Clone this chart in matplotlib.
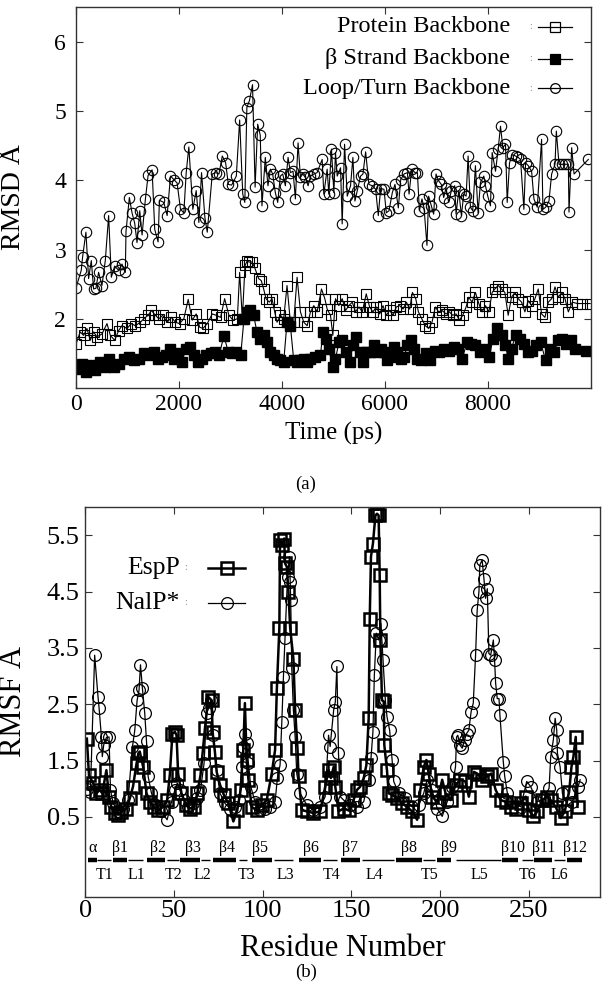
import matplotlib
matplotlib.use("Agg")
import matplotlib.pyplot as plt

plt.rcParams["font.family"] = ["Liberation Serif", "DejaVu Serif"]
plt.rcParams["mathtext.fontset"] = "stix"

# ---------------- panel (a): RMSD vs time ----------------
t_loop = [0, 104, 130, 195, 247, 299, 344, 389, 441, 506,
          571, 636, 688, 753, 830, 895, 960, 973, 1038, 1090,
          1142, 1187, 1240, 1285, 1350, 1402, 1480, 1531, 1596, 1622,
          1707, 1772, 1837, 1901, 1966, 2031, 2096, 2142, 2193, 2271,
          2336, 2388, 2440, 2505, 2551, 2648, 2713, 2778, 2843, 2908,
          2960, 3024, 3115, 3180, 3240, 3280, 3320, 3370, 3430, 3480,
          3530, 3580, 3613, 3678, 3730, 3776, 3821, 3873, 3919, 3970,
          4016, 4068, 4120, 4165, 4217, 4262, 4314, 4360, 4405, 4457,
          4509, 4555, 4620, 4684, 4782, 4814, 4879, 4911, 4963, 5009,
          5041, 5074, 5139, 5171, 5217, 5269, 5333, 5379, 5418, 5463,
          5528, 5574, 5626, 5690, 5755, 5820, 5872, 5917, 5982, 6028,
          6080, 6144, 6196, 6261, 6307, 6372, 6437, 6469, 6521, 6586,
          6631, 6670, 6720, 6760, 6817, 6850, 6902, 6947, 6993, 7044,
          7096, 7142, 7187, 7239, 7291, 7356, 7382, 7434, 7486, 7531,
          7577, 7616, 7661, 7706, 7758, 7810, 7856, 7921, 7953, 7998,
          8050, 8083, 8148, 8200, 8245, 8291, 8342, 8375, 8420, 8472,
          8537, 8589, 8634, 8699, 8732, 8784, 8849, 8894, 8959, 9043,
          9069, 9121, 9186, 9238, 9303, 9329, 9381, 9433, 9497, 9562,
          9575, 9627, 9673, 9950]
rmsd_loop = [2.44, 2.70, 2.89, 3.25, 2.58, 2.84, 2.43, 2.44, 2.67, 2.48,
             2.84, 3.49, 2.60, 2.76, 2.70, 2.79, 2.67, 3.26, 3.75, 3.53,
             3.38, 3.10, 3.56, 3.21, 3.73, 4.07, 4.15, 3.29, 3.11, 3.71,
             3.68, 3.49, 4.06, 4.01, 3.96, 3.58, 3.53, 4.11, 4.48, 3.58,
             3.85, 3.39, 4.11, 3.46, 3.25, 4.09, 4.11, 4.09, 4.35, 4.25,
             3.94, 3.93, 4.06, 4.87, 3.80, 3.68, 5.05, 5.15, 5.38, 3.90,
             4.81, 4.65, 3.63, 4.33, 3.92, 4.16, 4.09, 3.82, 3.68, 4.06,
             4.09, 3.92, 4.33, 4.11, 4.13, 3.73, 4.54, 4.04, 4.09, 4.04,
             3.92, 4.06, 4.09, 4.11, 4.30, 3.80, 4.16, 3.80, 4.45, 3.82,
             4.40, 4.06, 4.18, 3.37, 4.52, 3.77, 3.92, 4.33, 3.70, 3.85,
             4.06, 4.09, 4.41, 3.94, 3.92, 3.87, 3.49, 3.88, 3.87, 3.53,
             3.56, 3.82, 3.94, 3.60, 4.01, 4.09, 4.11, 3.80, 4.16, 4.11,
             4.11, 3.56, 3.73, 3.60, 3.06, 3.77, 3.63, 3.51, 4.09, 3.99,
             3.94, 3.75, 3.89, 3.68, 3.85, 3.92, 3.51, 3.85, 3.49, 3.80,
             3.77, 4.35, 3.61, 3.56, 4.21, 3.53, 3.97, 4.06, 3.92, 3.77,
             3.63, 4.40, 4.13, 4.45, 4.78, 4.47, 4.52, 3.68, 4.25, 4.37,
             4.35, 4.33, 4.30, 3.58, 4.25, 4.21, 4.13, 3.73, 3.61, 4.59,
             3.58, 3.61, 3.70, 4.09, 4.23, 4.71, 4.23, 4.23, 4.23, 4.23,
             3.54, 4.47, 4.09, 4.30]

t_prot = [0, 84, 150, 214, 280, 344, 409, 506, 604, 669,
          753, 830, 895, 993, 1077, 1155, 1253, 1317, 1402, 1467,
          1545, 1610, 1687, 1772, 1856, 1934, 2012, 2096, 2181, 2259,
          2336, 2401, 2466, 2551, 2648, 2726, 2810, 2888, 2972, 3050,
          3135, 3180, 3232, 3284, 3330, 3354, 3419, 3471, 3549, 3600,
          3646, 3691, 3756, 3808, 3860, 3906, 3970, 4035, 4100, 4165,
          4230, 4295, 4360, 4425, 4490, 4555, 4620, 4684, 4769, 4834,
          4879, 4944, 4989, 5041, 5106, 5171, 5236, 5301, 5366, 5431,
          5496, 5561, 5638, 5703, 5768, 5833, 5898, 5963, 6028, 6093,
          6158, 6222, 6287, 6352, 6417, 6482, 6534, 6599, 6651, 6716,
          6785, 6850, 6915, 6980, 7044, 7109, 7187, 7252, 7317, 7382,
          7447, 7512, 7577, 7629, 7693, 7758, 7823, 7888, 7953, 8018,
          8083, 8135, 8200, 8265, 8330, 8394, 8459, 8524, 8589, 8654,
          8719, 8784, 8849, 8914, 8978, 9043, 9108, 9173, 9238, 9303,
          9368, 9433, 9497, 9562, 9640, 9738, 9835, 9985]
rmsd_prot = [1.63, 1.81, 1.76, 1.86, 1.69, 1.81, 1.74, 1.78, 1.93, 1.76,
             1.69, 1.83, 1.90, 1.86, 1.93, 1.90, 1.95, 2.00, 2.05, 2.12,
             2.05, 2.00, 2.05, 1.95, 2.02, 1.95, 1.93, 2.00, 2.28, 1.98,
             2.07, 1.88, 1.86, 1.93, 2.07, 2.05, 2.02, 2.29, 2.05, 1.98,
             2.00, 2.67, 2.00, 2.77, 2.84, 2.82, 2.82, 2.74, 2.58, 2.55,
             2.43, 2.29, 2.24, 2.29, 2.10, 1.95, 2.05, 2.00, 2.48, 1.95,
             1.95, 2.60, 2.10, 1.95, 1.90, 2.10, 2.19, 2.10, 2.43, 2.29,
             2.14, 2.05, 1.76, 2.29, 2.19, 2.29, 2.12, 2.19, 2.24, 2.10,
             2.17, 2.10, 2.36, 2.17, 2.10, 2.17, 2.07, 2.19, 2.05, 2.12,
             2.05, 2.17, 2.19, 2.14, 2.24, 2.14, 2.38, 2.29, 2.10, 2.00,
             1.90, 1.86, 1.95, 2.17, 2.10, 2.12, 2.07, 2.10, 2.05, 2.07,
             1.98, 2.05, 2.17, 2.31, 2.24, 2.38, 2.22, 2.10, 2.19, 2.10,
             2.38, 2.43, 2.48, 2.43, 2.38, 2.05, 2.31, 2.38, 2.29, 2.24,
             2.10, 2.26, 2.19, 2.29, 2.43, 2.07, 2.02, 2.24, 2.29, 2.46,
             2.31, 2.38, 2.29, 2.10, 2.24, 2.22, 2.22, 2.22]

t_beta = [20, 117, 195, 280, 376, 474, 571, 649, 733, 830,
          928, 1025, 1123, 1220, 1317, 1415, 1512, 1596, 1674, 1752,
          1837, 1901, 1986, 2064, 2129, 2207, 2291, 2375, 2453, 2531,
          2615, 2700, 2778, 2875, 2960, 3037, 3115, 3200, 3264, 3330,
          3386, 3451, 3516, 3581, 3646, 3711, 3776, 3841, 3906, 3970,
          4035, 4100, 4165, 4230, 4295, 4360, 4425, 4490, 4555, 4652,
          4749, 4795, 4847, 4911, 4989, 5041, 5106, 5171, 5236, 5314,
          5379, 5444, 5509, 5574, 5638, 5703, 5788, 5853, 5917, 5982,
          6047, 6112, 6177, 6242, 6307, 6372, 6437, 6501, 6566, 6631,
          6696, 6798, 6882, 6980, 7057, 7142, 7239, 7336, 7421, 7499,
          7596, 7680, 7758, 7856, 7953, 8031, 8096, 8180, 8265, 8342,
          8394, 8459, 8537, 8615, 8699, 8784, 8862, 8940, 9024, 9121,
          9199, 9284, 9368, 9446, 9524, 9608, 9692, 9900]
rmsd_beta = [1.28, 1.35, 1.23, 1.33, 1.26, 1.38, 1.30, 1.42, 1.30, 1.35,
             1.42, 1.45, 1.40, 1.42, 1.50, 1.47, 1.52, 1.42, 1.45, 1.47,
             1.57, 1.42, 1.50, 1.38, 1.57, 1.59, 1.47, 1.38, 1.42, 1.47,
             1.50, 1.52, 1.47, 1.75, 1.52, 1.50, 1.52, 1.47, 2.00, 2.10,
             2.12, 2.05, 1.81, 1.71, 1.76, 1.66, 1.52, 1.47, 1.42, 1.40,
             1.38, 1.95, 1.90, 1.40, 1.38, 1.40, 1.42, 1.38, 1.42, 1.45,
             1.47, 1.81, 1.71, 1.57, 1.30, 1.42, 1.66, 1.69, 1.52, 1.38,
             1.62, 1.74, 1.52, 1.38, 1.52, 1.52, 1.62, 1.52, 1.57, 1.52,
             1.40, 1.45, 1.59, 1.52, 1.42, 1.45, 1.62, 1.69, 1.57, 1.42,
             1.40, 1.50, 1.40, 1.54, 1.52, 1.57, 1.54, 1.59, 1.57, 1.42,
             1.66, 1.64, 1.62, 1.52, 1.57, 1.45, 1.71, 1.86, 1.76, 1.62,
             1.42, 1.57, 1.76, 1.71, 1.64, 1.52, 1.54, 1.62, 1.66, 1.40,
             1.57, 1.52, 1.69, 1.71, 1.64, 1.69, 1.57, 1.54]

# ---------------- panel (b): RMSF vs residue ----------------
res_esp = [1, 2.2, 4.5, 6.4, 8.2, 9.7, 12, 13.5, 14.8, 16.7,
           18.6, 20.5, 23.3, 25.2, 27, 29, 30, 30.8, 32.7, 34.6,
           36.5, 38.7, 41.2, 44, 46.2, 47.7, 49.2, 50.6, 51.5, 52.4,
           54.3, 56.8, 59, 61.3, 63.2, 65, 66.2, 67.5, 69.4, 71.3,
           71.8, 73.1, 74.1, 76, 78.2, 80.7, 83.5, 85.7, 87.6, 89.1,
           90, 91, 92, 93.8, 96.6, 99.5, 102.3, 105.1, 107, 108,
           109.4, 109.8, 111, 112.1, 112.6, 113.6, 114.5, 115.5, 117.3, 118.3,
           119.6, 120.2, 122, 124.9, 128.6, 132.4, 135.2, 137.1, 138.4, 140,
           140.9, 142.7, 145.6, 148.4, 151.2, 153.1, 155, 156.9, 158.4, 159.7,
           160.3, 161, 162.1, 163.5, 164.4, 165.3, 165.9, 166.3, 167.2, 168.2,
           168.5, 170, 171, 172.9, 175.7, 178.5, 181.3, 184.1, 187, 188.8,
           190.7, 192.2, 193.5, 195.4, 198.3, 201.1, 203, 205.8, 208.6, 211.4,
           214.2, 216.1, 219, 220.8, 223.7, 226.5, 228.7, 231.2, 234, 236.8,
           239.6, 242.5, 245.3, 248.1, 250, 252.4, 254.7, 257.5, 260.3, 262.2,
           265, 267.9, 270.1, 272.6, 273.9, 275, 276.3, 277.3]
rmsf_esp = [1.89, 1.24, 1.10, 0.92, 0.98, 0.92, 1.33, 0.86, 0.68, 0.57,
            0.54, 0.59, 0.65, 0.83, 1.04, 1.45, 1.63, 1.66, 1.39, 0.92,
            0.77, 0.68, 0.62, 0.68, 0.80, 1.24, 1.98, 2.01, 1.95, 1.27,
            0.92, 0.71, 0.65, 0.68, 0.92, 1.24, 1.63, 2.07, 2.63, 2.57,
            2.01, 1.66, 1.30, 1.07, 0.89, 0.74, 0.42, 0.62, 0.98, 1.69,
            2.52, 1.51, 1.16, 0.68, 0.62, 0.71, 0.80, 1.27, 1.69, 2.78,
            3.85, 5.41, 5.32, 5.44, 5.00, 4.94, 4.50, 3.85, 3.31, 2.40,
            1.72, 1.22, 0.62, 0.60, 0.57, 0.60, 1.04, 1.33, 1.19, 1.39,
            1.04, 0.60, 0.65, 0.62, 0.80, 0.98, 1.04, 1.19, 1.42, 2.25,
            4.02, 5.12, 5.35, 5.85, 5.88, 5.85, 4.79, 3.64, 2.57, 2.55,
            1.78, 1.33, 0.92, 0.89, 0.83, 0.74, 0.68, 0.60, 0.45, 0.98,
            1.39, 1.51, 1.27, 0.86, 0.77, 1.16, 0.92, 0.80, 1.07, 1.16,
            1.13, 0.86, 1.30, 1.27, 1.16, 1.22, 1.27, 0.98, 0.80, 0.77,
            0.68, 0.65, 0.74, 0.86, 0.62, 0.51, 0.60, 0.80, 0.86, 0.80,
            0.68, 0.48, 0.60, 0.95, 1.39, 1.57, 1.92, 0.68]

res_nal = [1, 3, 5.4, 7.3, 7.9, 9.2, 9.7, 10.5, 12, 13.5,
           14.3, 15.8, 18.6, 21.4, 24.2, 26.7, 28, 29.3, 30.4, 31.2,
           32.3, 33.6, 34.6, 35.5, 37.4, 40.2, 43, 46.2, 48.7, 50.6,
           51.9, 53.4, 55.6, 58.1, 60.9, 62.8, 65, 67, 68.4, 69.6,
           70.7, 72.2, 74.1, 76, 78.8, 81.6, 84.4, 86.9, 88.2, 89.1,
           90, 91, 92, 93.3, 95.7, 98.5, 101.4, 104.2, 107, 108.3,
           109.8, 110.8, 111.7, 112.6, 114, 115.1, 115.5, 115.8, 116.4, 117.3,
           118.3, 119.2, 121.1, 124.9, 128.6, 132.4, 135.2, 137.1, 138, 140,
           140.9, 141.8, 142.7, 143.7, 145.6, 149.3, 153.1, 156.9, 159.7, 161,
           162.1, 162.9, 164, 165.3, 166.6, 167.8, 169.1, 170, 171.5, 172.9,
           173.8, 176.6, 180.4, 184.1, 187.9, 190.7, 192.6, 195.4, 198.3, 201.1,
           203.9, 206.7, 208.6, 209.2, 209.9, 211, 212.4, 213.7, 214.8, 216.1,
           217.4, 218.6, 219.9, 220.8, 221.8, 222.3, 223.6, 224.6, 225.5, 226.5,
           227.4, 228.4, 229.9, 230.6, 231.2, 232.1, 233.1, 233.6, 235.5, 236.3,
           237.8, 240.6, 245.3, 248.7, 250.9, 254.7, 258.5, 261.3, 262.2, 263.7,
           264.7, 265.6, 266, 267.5, 268.8, 271.6, 274.4, 277.6, 278.8]
rmsf_nal = [1.00, 0.95, 3.37, 2.63, 2.43, 1.92, 1.57, 1.78, 1.91, 1.92,
            0.98, 0.74, 0.60, 0.65, 0.80, 1.75, 2.04, 2.57, 2.75, 3.20,
            2.78, 2.34, 1.84, 1.22, 0.92, 0.71, 0.60, 0.45, 0.77, 0.98,
            1.10, 0.98, 0.80, 0.68, 0.74, 0.83, 0.98, 1.45, 2.34, 2.43,
            2.57, 1.95, 1.33, 0.92, 0.74, 0.65, 0.68, 0.80, 1.39, 1.75,
            1.98, 1.81, 1.45, 1.04, 0.77, 0.62, 0.65, 0.68, 0.77, 1.19,
            1.42, 2.19, 2.99, 3.67, 4.76, 5.12, 4.67, 4.35, 3.14, 2.40,
            1.92, 1.27, 0.92, 0.71, 0.62, 0.68, 0.86, 1.95, 1.75, 2.40,
            2.54, 3.17, 1.63, 0.86, 0.80, 0.71, 0.68, 0.77, 1.16, 1.54,
            2.01, 3.02, 3.76, 3.64, 3.93, 3.28, 2.57, 2.28, 2.04, 1.51,
            1.13, 0.92, 0.83, 0.68, 0.71, 0.92, 1.16, 0.98, 0.65, 0.51,
            0.77, 1.04, 1.39, 1.92, 1.95, 1.78, 1.72, 1.87, 1.98, 2.04,
            2.37, 2.52, 3.37, 4.17, 4.50, 4.97, 5.06, 4.73, 4.38, 4.55,
            3.40, 3.37, 3.64, 3.28, 2.87, 2.60, 2.60, 2.31, 1.48, 1.22,
            0.92, 0.77, 0.68, 1.13, 1.04, 0.77, 0.83, 1.01, 1.57, 1.87,
            2.25, 2.04, 1.63, 1.39, 0.92, 0.71, 0.77, 1.04, 1.16]

# secondary structure map (residue ranges)
strand_names = ["α", "β1", "β2", "β3", "β4", "β5", "β6", "β7", "β8", "β9", "β10", "β11", "β12"]
strand_start = [1.4, 15.6, 35, 53.3, 72, 94, 120.5, 144, 175, 198, 235, 253, 271.5]
strand_end = [6.5, 23.4, 45, 64.5, 85, 105.5, 133, 155, 189.5, 206, 244, 263, 280]
strand_label_x = [4, 19.5, 41, 60.5, 80, 98.6, 127, 149, 182.6, 205, 241, 258, 276]
loop_names = ["T1", "L1", "T2", "L2", "T3", "L3", "T4", "L4", "T5", "L5", "T6", "L6"]
loop_start = [7, 24, 46, 65.4, 86.5, 106.5, 134, 156, 190.5, 209, 246, 264]
loop_end = [14.6, 32.6, 53, 70.3, 91, 117, 141.6, 174, 197, 234, 252, 270.5]
loop_label_x = [11, 29, 50, 66, 91, 113, 139, 163, 194, 222, 249, 267]

fig = plt.figure(figsize=(6.12, 9.96), dpi=100)
frame = "#333333"

# ---------- (a) ----------
ax1 = fig.add_axes([0.124, 0.6104, 0.8415, 0.3825])
ax1.plot(t_prot, rmsd_prot, color="black", lw=0.8, marker="s", ms=7.5,
         mfc="none", mec="black", mew=0.8)
ax1.plot(t_beta, rmsd_beta, color="black", lw=0.8, marker="s", ms=7,
         mfc="black", mec="black")
ax1.plot(t_loop, rmsd_loop, color="black", lw=0.8, marker="o", ms=7.5,
         mfc="none", mec="black", mew=0.8)
ax1.set_xlim(0, 10000)
ax1.set_ylim(1.0, 6.5)
ax1.set_xticks([0, 2000, 4000, 6000, 8000])
ax1.set_yticks([2, 3, 4, 5, 6])
ax1.tick_params(direction="in", top=True, right=True, length=5, width=0.8,
                color=frame, labelsize=17)
ax1.tick_params(axis="x", pad=4)
ax1.tick_params(axis="y", pad=7)
ax1.set_xlabel("Time (ps)", fontsize=18)
ax1.xaxis.set_label_coords(0.5, -0.12)
ax1.xaxis.label.set_va("center")
ax1.set_ylabel("RMSD Å", fontsize=20)
ax1.yaxis.set_label_coords(-0.097, 0.5)
for s in ax1.spines.values():
    s.set_color(frame)
    s.set_linewidth(1.0)

legend_a = [("Protein Backbone", "s", "none", 0.948),
            ("β Strand Backbone", "s", "black", 0.864),
            ("Loop/Turn Backbone", "o", "none", 0.787)]
for label, mk, fc, yy in legend_a:
    ax1.text(0.843, yy, label, transform=ax1.transAxes, ha="right",
             va="center", fontsize=17.5)
    ax1.text(0.882, yy, ":", transform=ax1.transAxes, ha="center",
             va="center", fontsize=7, color="#888888")
    ax1.plot([0.897, 0.963], [yy, yy], transform=ax1.transAxes,
             color="black", lw=0.9, clip_on=False)
    ax1.plot([0.930], [yy], transform=ax1.transAxes, marker=mk, ms=7,
             mfc=fc, mec="black", mew=0.9, clip_on=False)

fig.text(0.5, 1 - 484 / 996, "(a)", ha="center", va="center", fontsize=13.5)

# ---------- (b) ----------
ax2 = fig.add_axes([0.139, 0.0994, 0.8415, 0.3916])
ax2.plot(res_esp, rmsf_esp, color="black", lw=1.8, marker="s", ms=8.5,
         mfc="none", mec="black", mew=1.8)
ax2.plot(res_nal, rmsf_nal, color="black", lw=0.9, marker="o", ms=8.5,
         mfc="none", mec="black", mew=0.9)
for a, b in zip(strand_start, strand_end):
    ax2.plot([a, b], [-0.26, -0.26], color="black", lw=3.2,
             solid_capstyle="butt")
for a, b in zip(loop_start, loop_end):
    ax2.plot([a, b], [-0.26, -0.26], color="black", lw=1.0,
             solid_capstyle="butt")
for name, x in zip(strand_names, strand_label_x):
    ax2.text(x, -0.05, name, ha="center", va="center", fontsize=11.5)
for name, x in zip(loop_names, loop_label_x):
    ax2.text(x, -0.53, name, ha="center", va="center", fontsize=11.5)

ax2.set_xlim(0, 290)
ax2.set_ylim(-0.92, 6.0)
ax2.set_xticks([0, 50, 100, 150, 200, 250])
ax2.set_yticks([0.5, 1.5, 2.5, 3.5, 4.5, 5.5])
ax2.set_yticklabels(["0.5", "1.5", "2.5", "3.5", "4.5", "5.5"])
ax2.tick_params(direction="in", top=True, right=True, length=5, width=0.8,
                color=frame, labelsize=19)
ax2.tick_params(axis="x", pad=2)
ax2.tick_params(axis="y", pad=4)
ax2.set_xlabel("Residue Number", fontsize=22)
ax2.xaxis.set_label_coords(0.5, -0.131)
ax2.xaxis.label.set_va("center")
ax2.set_ylabel("RMSF Å", fontsize=22)
ax2.yaxis.set_label_coords(-0.11, 0.5)
for s in ax2.spines.values():
    s.set_color(frame)
    s.set_linewidth(1.0)

legend_b = [("EspP", 1.8, 0.844), ("NalP*", 0.9, 0.754)]
for (label, w, yy), mk in zip(legend_b, ["s", "o"]):
    ax2.text(0.184, yy, label, transform=ax2.transAxes, ha="right",
             va="center", fontsize=18.5)
    ax2.text(0.196, yy, ":", transform=ax2.transAxes, ha="center",
             va="center", fontsize=7, color="#888888")
    ax2.plot([0.239, 0.311], [yy, yy], transform=ax2.transAxes,
             color="black", lw=w, clip_on=False)
    ax2.plot([0.275], [yy], transform=ax2.transAxes, marker=mk, ms=8.5,
             mfc="none", mec="black", mew=w, clip_on=False)

fig.text(0.5, 1 - 972 / 996, "(b)", ha="center", va="center", fontsize=13.5)

fig.savefig("out.png", dpi=100)
